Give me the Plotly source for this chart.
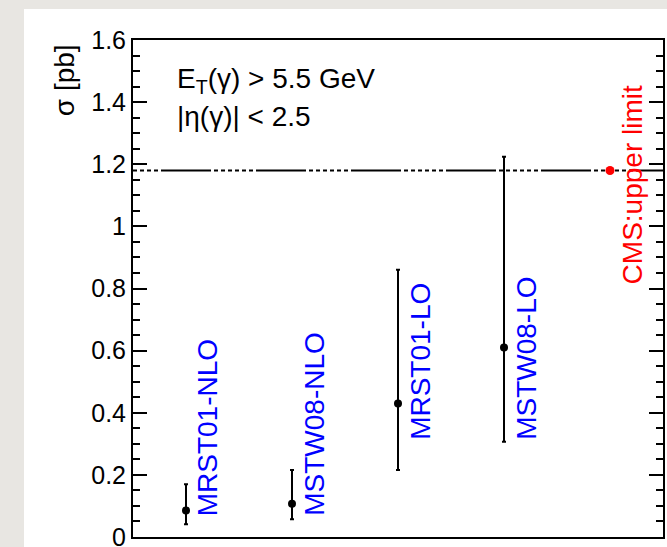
import plotly.graph_objects as go

# PDF sets and predicted cross sections (pb)
pdf_sets = ["MRST01-NLO", "MSTW08-NLO", "MRST01-LO", "MSTW08-LO"]
sigma_central = [0.085, 0.107, 0.43, 0.61]
sigma_upper = [0.17, 0.216, 0.86, 1.224]
sigma_lower = [0.041, 0.057, 0.216, 0.307]

# CMS measured upper limit (pb)
cms_label = "CMS:upper limit"
cms_limit = 1.18

# Axis ticks
y_ticks = [0, 0.2, 0.4, 0.6, 0.8, 1.0, 1.2, 1.4, 1.6]
y_tick_text = ["0", "0.2", "0.4", "0.6", "0.8", "1", "1.2", "1.4", "1.6"]

FONT = "Liberation Sans, Arial, Helvetica, sans-serif"

# Bin centres: one slot per PDF set, last slot for the CMS limit
x_pos = [i + 0.5 for i in range(len(pdf_sets))]
x_cms = len(pdf_sets) + 0.5
x_max = len(pdf_sets) + 1

err_plus = [u - c for u, c in zip(sigma_upper, sigma_central)]
err_minus = [c - l for c, l in zip(sigma_central, sigma_lower)]

# Dash-dot-dot pattern: a few dots, a long dash, then more dots
dots = lambda n: ",".join(["4px,3px"] * n)
limit_dash = f"{dots(4)},50px,3px,{dots(2)}"

fig = go.Figure()

# Horizontal line at the CMS limit
fig.add_trace(go.Scatter(
    x=[0, x_max], y=[cms_limit, cms_limit], mode="lines",
    line=dict(color="black", width=2, dash=limit_dash),
    hoverinfo="skip", showlegend=False,
))

# Predictions with uncertainty bands
fig.add_trace(go.Scatter(
    x=x_pos, y=sigma_central, mode="markers",
    marker=dict(color="black", size=8, symbol="circle"),
    error_y=dict(type="data", symmetric=False, array=err_plus,
                 arrayminus=err_minus, color="black", thickness=2, width=2),
    showlegend=False,
))

# CMS point
fig.add_trace(go.Scatter(
    x=[x_cms], y=[cms_limit], mode="markers",
    marker=dict(color="#ff0000", size=9, symbol="circle"),
    showlegend=False,
))

# Vertical labels next to each prediction
label_y = [0.061, 0.061, 0.307, 0.307]
for xp, name, ly in zip(x_pos, pdf_sets, label_y):
    fig.add_annotation(
        x=xp + 0.205, y=ly, xref="x", yref="y", text=name, textangle=-90,
        showarrow=False, xanchor="center", yanchor="bottom",
        font=dict(family=FONT, size=28, color="#0000ff"),
    )
fig.add_annotation(
    x=x_cms + 0.21, y=0.806, xref="x", yref="y", text=cms_label, textangle=-90,
    showarrow=False, xanchor="center", yanchor="bottom",
    font=dict(family=FONT, size=28, color="#ff0000"),
)

# Kinematic cuts
fig.add_annotation(
    x=0.396, y=1.471, xref="x", yref="y",
    text="E<sub>T</sub>(γ) &gt; 5.5 GeV", showarrow=False,
    xanchor="left", yanchor="middle",
    font=dict(family=FONT, size=28, color="black"),
)
fig.add_annotation(
    x=0.396, y=1.355, xref="x", yref="y",
    text="|η(γ)| &lt; 2.5", showarrow=False,
    xanchor="left", yanchor="middle",
    font=dict(family=FONT, size=28, color="black"),
)

# Y axis title at the top end of the axis
fig.add_annotation(
    x=-0.128, y=0.996, xref="paper", yref="paper", text="σ [pb]",
    textangle=-90, showarrow=False, xanchor="center", yanchor="top",
    font=dict(family=FONT, size=28, color="black"),
)

# White card behind the plot
fig.add_shape(
    type="rect", xref="paper", yref="paper",
    x0=-0.2057, x1=1.2, y0=-0.1, y1=1.0624,
    fillcolor="white", line=dict(width=0), layer="below",
)

fig.update_xaxes(
    range=[0, x_max], showticklabels=False, ticks="",
    showline=True, linecolor="black", linewidth=2, mirror=True,
    showgrid=False, zeroline=False,
)
fig.update_yaxes(
    range=[0, 1.6], tickvals=y_ticks, ticktext=y_tick_text,
    ticks="inside", ticklen=14, tickwidth=2, tickcolor="black",
    minor=dict(dtick=0.05, ticks="inside", ticklen=7, tickwidth=2,
               tickcolor="black", showgrid=False),
    showline=True, linecolor="black", linewidth=2, mirror="ticks",
    showgrid=False, zeroline=False, ticklabeloverflow="allow",
    tickfont=dict(family=FONT, size=25, color="black"),
)

fig.update_layout(
    width=667, height=547,
    margin=dict(l=133, r=4, t=40, b=10, autoexpand=False),
    paper_bgcolor="#e8e6e2", plot_bgcolor="white",
    font=dict(family=FONT, color="black"),
    showlegend=False,
)

fig.write_html("out.html")
